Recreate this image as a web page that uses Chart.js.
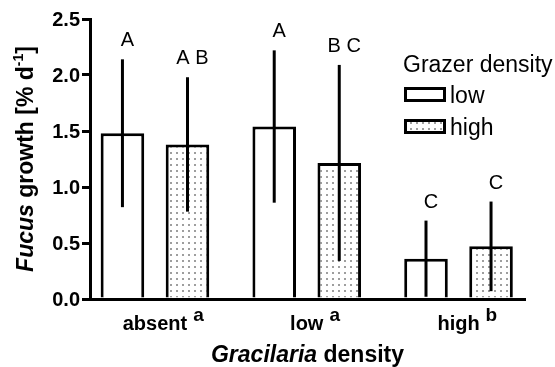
<!DOCTYPE html>
<html>
<head>
<meta charset="utf-8">
<title>Fucus growth by Gracilaria and grazer density</title>
<script src="https://cdn.jsdelivr.net/npm/chart.js@4.4.1/dist/chart.umd.min.js"></script>
<style>
  html, body { margin: 0; padding: 0; background: #fff; }
  canvas { display: block; }
</style>
</head>
<body>
<canvas id="chart" width="555" height="367"></canvas>
<script>
// Gracilaria density groups and their post-hoc marks
const categories = ['absent', 'low', 'high'];
const categoryMarks = ['a', 'a', 'b'];

// Fucus growth (% per day): means and error per grazer density
const lowGrazerMeans = [1.48, 1.54, 0.36];
const lowGrazerErrors = [0.66, 0.68, 0.34];
const highGrazerMeans = [1.38, 1.215, 0.47];
const highGrazerErrors = [0.60, 0.875, 0.40];

// significance letters over each bar
const lowGrazerLetters = ['A', 'A', 'C'];
const highGrazerLetters = ['A B', 'B C', 'C'];

const yTicks = [0, 0.5, 1.0, 1.5, 2.0, 2.5];

const FONT = '"Liberation Sans", Arial, sans-serif';

const canvas = document.getElementById('chart');
const ctx = canvas.getContext('2d');

// small dotted fill for the high grazer bars
function makeDotPattern() {
  const c = document.createElement('canvas');
  c.width = 6;
  c.height = 6;
  const g = c.getContext('2d');
  g.fillStyle = '#fff';
  g.fillRect(0, 0, 6, 6);
  g.fillStyle = '#222';
  g.beginPath();
  g.arc(3, 3, 0.8, 0, Math.PI * 2);
  g.fill();
  return ctx.createPattern(c, 'repeat');
}

/**
 * Draw a row of text runs (mixed fonts, superscripts) as one label
 */
function drawRuns(c, runs, x, y, align) {
  let total = 0;
  runs.forEach(r => {
    c.font = r.font;
    r.w = c.measureText(r.text).width;
    total += r.w + (r.gap || 0);
  });
  let cx = x;
  if (align === 'center') cx = x - total / 2;
  if (align === 'right') cx = x - total;
  c.textAlign = 'left';
  c.textBaseline = 'alphabetic';
  runs.forEach(r => {
    cx += r.gap || 0;
    c.font = r.font;
    c.fillText(r.text, cx, y + (r.dy || 0));
    cx += r.w;
  });
}

const toPoints = values => values.map((v, i) => ({ x: i, y: v }));

// error bars and significance letters
const errorBars = {
  id: 'errorBars',
  afterDatasetsDraw(chart) {
    const { ctx: c, scales: { y } } = chart;
    c.save();
    c.strokeStyle = '#000';
    c.fillStyle = '#000';
    c.lineWidth = 3;
    chart.data.datasets.forEach((ds, di) => {
      chart.getDatasetMeta(di).data.forEach((bar, i) => {
        const v = ds.data[i].y;
        const e = ds.errors[i];
        const top = y.getPixelForValue(v + e);
        c.beginPath();
        c.moveTo(bar.x, top);
        c.lineTo(bar.x, y.getPixelForValue(Math.max(0, v - e)));
        c.stroke();
        drawRuns(c, [{ text: ds.letters[i], font: '20px ' + FONT }], bar.x + 5, top - 13, 'center');
      });
    });
    c.restore();
  }
};

// tick labels, axis titles and legend
const annotations = {
  id: 'annotations',
  afterDraw(chart) {
    const { ctx: c, scales: { x, y } } = chart;
    c.save();
    c.fillStyle = '#000';

    // y tick labels
    y.ticks.forEach(t => {
      drawRuns(c, [{ text: t.value.toFixed(1), font: 'bold 20px ' + FONT }],
        80, y.getPixelForValue(t.value) + 7, 'right');
    });

    // x category labels with superscript marks
    categories.forEach((name, i) => {
      const cx = x.getPixelForValue(i);
      c.font = 'bold 20px ' + FONT;
      const w = c.measureText(name).width;
      drawRuns(c, [{ text: name, font: 'bold 20px ' + FONT }], cx - w / 2, 330, 'left');
      drawRuns(c, [{ text: categoryMarks[i], font: 'bold 19px ' + FONT }], cx + w / 2 + 6, 321, 'left');
    });

    // x title
    drawRuns(c, [
      { text: 'Gracilaria', font: 'italic bold 23px ' + FONT },
      { text: ' density', font: 'bold 23px ' + FONT }
    ], (x.left + x.right) / 2, 362, 'center');

    // y title
    c.save();
    c.translate(33, (y.top + y.bottom) / 2);
    c.rotate(-Math.PI / 2);
    drawRuns(c, [
      { text: 'Fucus', font: 'italic bold 23px ' + FONT },
      { text: ' growth [% d', font: 'bold 23px ' + FONT },
      { text: '-1', font: 'bold 14px ' + FONT, dy: -10 },
      { text: ']', font: 'bold 23px ' + FONT }
    ], 0, 0, 'center');
    c.restore();

    // legend
    drawRuns(c, [{ text: 'Grazer density', font: '23px ' + FONT }], 403, 72, 'left');
    chart.data.datasets.forEach((ds, i) => {
      const top = 87 + i * 32;
      c.fillStyle = ds.backgroundColor;
      c.fillRect(405, top + 1, 40, 13);
      c.strokeStyle = '#000';
      c.lineWidth = 3;
      c.strokeRect(405.5, top + 1.5, 39, 12);
      c.fillStyle = '#000';
      drawRuns(c, [{ text: ds.label, font: '23px ' + FONT }], 450, top + 16, 'left');
    });
    c.restore();
  }
};

const barStyle = {
  borderColor: '#000',
  borderWidth: 3,
  borderSkipped: 'start',
  categoryPercentage: 0.857,
  barPercentage: 0.67
};

new Chart(ctx, {
  type: 'bar',
  data: {
    datasets: [
      Object.assign({
        label: 'low',
        data: toPoints(lowGrazerMeans),
        errors: lowGrazerErrors,
        letters: lowGrazerLetters,
        backgroundColor: '#fff'
      }, barStyle),
      Object.assign({
        label: 'high',
        data: toPoints(highGrazerMeans),
        errors: highGrazerErrors,
        letters: highGrazerLetters,
        backgroundColor: makeDotPattern()
      }, barStyle)
    ]
  },
  options: {
    responsive: false,
    animation: false,
    events: [],
    layout: { padding: { top: 19, right: 30, left: 0, bottom: 0 } },
    scales: {
      x: {
        type: 'linear',
        offset: false,
        min: -0.428,
        max: 2.438,
        afterBuildTicks: s => { s.ticks = categories.map((_, i) => ({ value: i })); },
        afterFit: s => { s.height = 68; },
        ticks: { display: false },
        grid: { display: false, offset: false },
        border: { color: '#000', width: 3 }
      },
      y: {
        min: 0,
        max: 2.5,
        afterBuildTicks: s => { s.ticks = yTicks.map(v => ({ value: v })); },
        afterFit: s => { s.width = 90; },
        ticks: { display: false },
        grid: { drawOnChartArea: false, drawTicks: true, tickLength: 8, color: '#000', lineWidth: 3 },
        border: { color: '#000', width: 3 }
      }
    },
    plugins: {
      legend: { display: false },
      tooltip: { enabled: false }
    }
  },
  plugins: [errorBars, annotations]
});
</script>
</body>
</html>
